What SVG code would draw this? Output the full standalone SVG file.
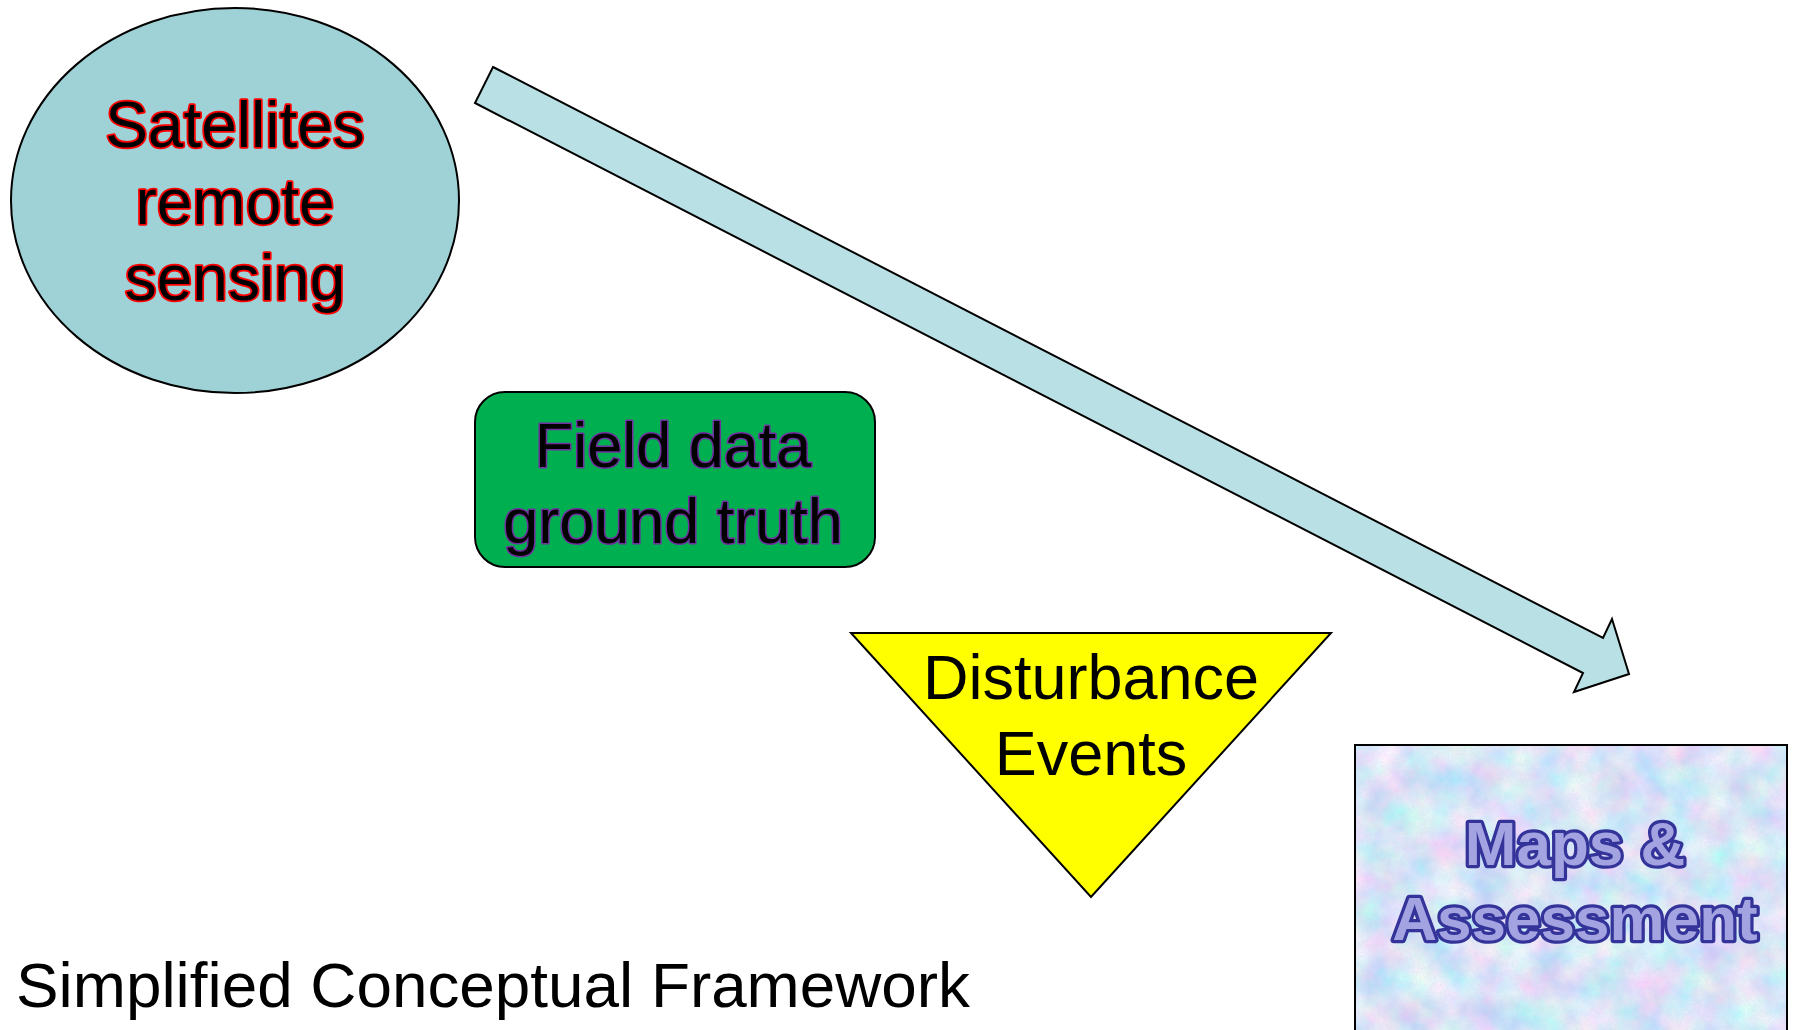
<svg xmlns="http://www.w3.org/2000/svg" width="1793" height="1030" viewBox="0 0 1793 1030">
  <defs>
    <style>
      .lbl { font-family: "Liberation Sans", Arial, sans-serif; text-anchor: middle; }
      .outline { paint-order: stroke fill; stroke-linejoin: round; }
      .shape { stroke: #000; stroke-width: 2; }
    </style>
    <!-- pastel marbled paper texture -->
    <filter id="paper" x="0" y="0" width="100%" height="100%">
      <feTurbulence type="fractalNoise" baseFrequency="0.03" numOctaves="4" seed="7" result="noise"/>
      <feColorMatrix in="noise" type="matrix" values="
        0.8 0 0 0 0.30
        0 0.5 0 0 0.54
        0 0 0.2 0 0.83
        0 0 0 0 1" result="tint"/>
      <feTurbulence type="fractalNoise" baseFrequency="0.5" numOctaves="2" seed="3" result="grain"/>
      <feColorMatrix in="grain" type="matrix" values="
        0 0 0 0 0.60
        0 0 0 0 0.68
        0 0 0 0 0.88
        0 0 0 0.8 -0.3" result="grainA"/>
      <feComposite in="grainA" in2="tint" operator="over"/>
    </filter>
  </defs>

  <rect width="1793" height="1030" fill="#fff"/>

  <g id="connectors">
    <path id="flow-arrow" class="shape" fill="#B9E0E4"
      d="M493,67 L1603,638 L1612,619 L1629,674 L1574,692 L1583,673 L475,103 Z"/>
  </g>

  <g id="satellites">
    <ellipse cx="235" cy="200.5" rx="224" ry="192.5" fill="#9FD2D6" class="shape" stroke-width="1.6"/>
    <g class="lbl outline" font-size="64" fill="#000" stroke="#FF0000" stroke-width="3.5">
      <text x="235" y="147">Satellites</text>
      <text x="235" y="224">remote</text>
      <text x="235" y="300">sensing</text>
    </g>
  </g>

  <g id="field-data">
    <rect x="475" y="392" width="400" height="175" rx="30" ry="30" fill="#00B050" class="shape"/>
    <g class="lbl outline" font-size="63" fill="#000" stroke="#7030A0" stroke-width="3">
      <text x="673" y="467">Field data</text>
      <text x="673" y="543">ground truth</text>
    </g>
  </g>

  <g id="disturbance">
    <polygon points="851,633 1331,633 1091,897" fill="#FFFF00" class="shape" stroke-width="1.6"/>
    <g class="lbl" font-size="63" fill="#000">
      <text x="1091" y="699">Disturbance</text>
      <text x="1091" y="775">Events</text>
    </g>
  </g>

  <g id="maps">
    <rect x="1355" y="745" width="432" height="300" filter="url(#paper)"/>
    <rect x="1355" y="745" width="432" height="300" fill="none" class="shape"/>
    <g class="lbl outline" font-size="62" font-weight="bold" fill="#A3A3E2" stroke="#333399" stroke-width="6.5">
      <text x="1575" y="865">Maps &amp;</text>
      <text x="1575" y="940">Assessment</text>
    </g>
  </g>

  <text id="title" x="16" y="1007" font-family="'Liberation Sans', Arial, sans-serif" font-size="63" fill="#000" textLength="954" lengthAdjust="spacingAndGlyphs">Simplified Conceptual Framework</text>
</svg>
